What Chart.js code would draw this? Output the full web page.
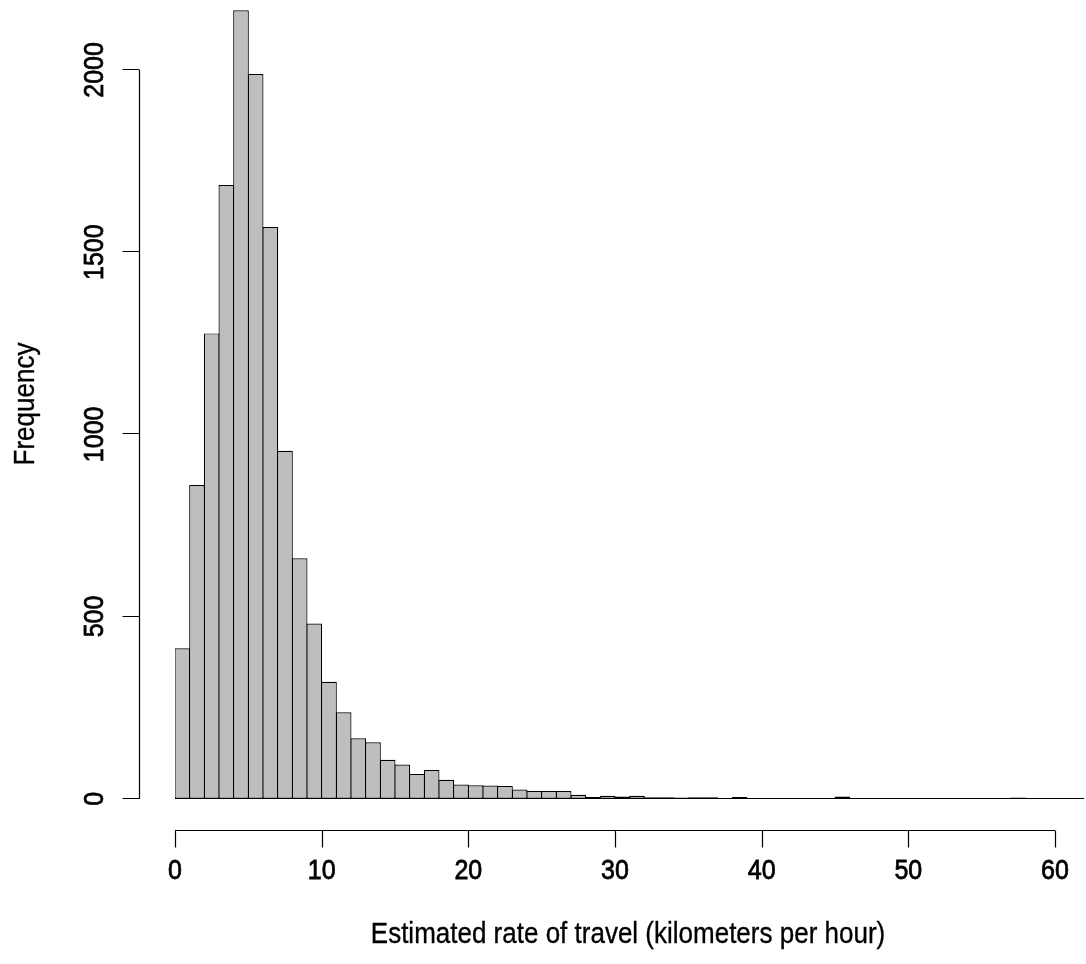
<!DOCTYPE html>
<html>
<head>
<meta charset="utf-8">
<script src="https://cdn.jsdelivr.net/npm/chart.js@4.4.1/dist/chart.umd.min.js"></script>
<style>
  html, body { margin: 0; padding: 0; background: #fff; }
  canvas { display: block; }
</style>
</head>
<body>
<canvas id="hist" width="1086" height="964"></canvas>
<script>
// histogram bins, width 1 km/h (left edge of each bin)
var binStart = [0, 1, 2, 3, 4, 5, 6, 7, 8, 9, 10, 11, 12, 13, 14, 15, 16, 17, 18, 19,
  20, 21, 22, 23, 24, 25, 26, 27, 28, 29, 30, 31, 32, 33, 34, 35, 36, 37, 38, 39,
  40, 41, 42, 43, 44, 45, 46, 47, 48, 49, 50, 51, 52, 53, 54, 55, 56, 57, 58, 59,
  60, 61];
var counts = [413, 861, 1277, 1684, 2164, 1989, 1569, 955, 660, 481, 321, 237, 166, 155, 107, 94,
  68, 79, 52, 39, 37, 36, 35, 25, 21, 21, 21, 11, 5, 8, 6, 8, 4, 4, 3, 4,
  4, 1, 5, 2, 2, 1, 0, 0, 2, 6, 0, 0, 0, 0, 0, 0, 0, 0, 0, 0,
  0, 3, 0, 0, 0, 0];
var xTicks = [0, 10, 20, 30, 40, 50, 60];
var yTicks = [0, 500, 1000, 1500, 2000];
var xTitle = "Estimated rate of travel (kilometers per hour)";
var yTitle = "Frequency";

var points = binStart.map(function (b, i) { return { x: b + 0.5, y: counts[i] }; });

var FONT = '"Liberation Sans", Arial, Helvetica, sans-serif';

// text a little taller than wide, slightly heavy, like the R png
function label(ctx, text, x, y, rot, weight) {
  ctx.save();
  ctx.translate(x, y);
  if (rot) ctx.rotate(rot);
  ctx.scale(1, 1.12);
  ctx.fillText(text, 0, 0);
  if (weight) {
    ctx.lineWidth = weight;
    ctx.strokeText(text, 0, 0);
  }
  ctx.restore();
}

// R-style detached axes
var rAxes = {
  id: 'rAxes',
  afterDraw: function (chart) {
    var ctx = chart.ctx;
    var xs = chart.scales.x, ys = chart.scales.y;
    var y0 = ys.getPixelForValue(0);
    ctx.save();
    ctx.strokeStyle = '#000';
    ctx.fillStyle = '#000';
    ctx.lineWidth = 1.2;

    // baseline under the bars (zero bins are drawn as a line in R)
    ctx.beginPath();
    ctx.moveTo(xs.getPixelForValue(0), Math.round(y0) - 0.5);
    ctx.lineTo(xs.getPixelForValue(62), Math.round(y0) - 0.5);
    ctx.stroke();

    // x axis
    var axY = Math.round(y0) + 31.5;
    ctx.beginPath();
    ctx.moveTo(xs.getPixelForValue(xTicks[0]), axY);
    ctx.lineTo(xs.getPixelForValue(xTicks[xTicks.length - 1]), axY);
    xTicks.forEach(function (t) {
      var px = Math.round(xs.getPixelForValue(t)) + 0.5;
      ctx.moveTo(px, axY);
      ctx.lineTo(px, axY + 17);
    });
    ctx.stroke();
    ctx.font = '25px ' + FONT;
    ctx.textAlign = 'center';
    ctx.textBaseline = 'middle';
    xTicks.forEach(function (t) {
      label(ctx, String(t), xs.getPixelForValue(t), 871, 0, 0.7);
    });

    // y axis
    var axX = 139.5;
    ctx.lineWidth = 1.2;
    ctx.beginPath();
    ctx.moveTo(axX, ys.getPixelForValue(yTicks[0]));
    ctx.lineTo(axX, ys.getPixelForValue(yTicks[yTicks.length - 1]));
    yTicks.forEach(function (t) {
      var py = Math.round(ys.getPixelForValue(t)) - 0.5;
      ctx.moveTo(axX, py);
      ctx.lineTo(axX - 17, py);
    });
    ctx.stroke();
    yTicks.forEach(function (t) {
      label(ctx, String(t), 95, ys.getPixelForValue(t), -Math.PI / 2, 0.7);
    });

    // titles
    ctx.font = '26px ' + FONT;
    label(ctx, xTitle, 628, 935, 0, 0.3);
    label(ctx, yTitle, 26, 404, -Math.PI / 2, 0.3);
    ctx.restore();
  }
};

new Chart(document.getElementById('hist'), {
  type: 'bar',
  data: {
    datasets: [{
      data: points,
      backgroundColor: '#bebebe',
      borderColor: '#000000',
      borderWidth: 1.2,
      borderSkipped: false,
      barPercentage: 1.068,
      categoryPercentage: 1,
      grouped: false
    }]
  },
  options: {
    responsive: false,
    animation: false,
    layout: { padding: { left: 175, right: 1.7, top: 0, bottom: 165.3 } },
    scales: {
      x: { type: 'linear', min: 0, max: 62, offset: false, display: false },
      y: { min: 0, max: 2192, display: false }
    },
    plugins: { legend: { display: false }, tooltip: { enabled: false } }
  },
  plugins: [rAxes]
});
</script>
</body>
</html>
